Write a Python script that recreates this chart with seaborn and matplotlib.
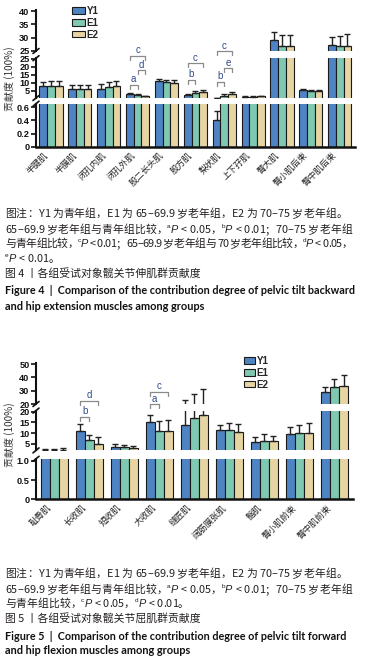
import numpy as np
import pandas as pd
import matplotlib
matplotlib.use('Agg')
import matplotlib.pyplot as plt
import seaborn as sns
from matplotlib.lines import Line2D
from matplotlib.transforms import ScaledTranslation

sns.set_theme(style='white')
plt.rcParams['font.family'] = ['Noto Sans CJK SC', 'DejaVu Sans']
plt.rcParams['axes.unicode_minus'] = False

# ---------------- data ----------------
groups = ['Y1', 'E1', 'E2']
colors = ['#4f84c4', '#7fc8b2', '#e6d4a2']

muscles4 = ['半腱肌', '半膜肌', '闭孔内肌', '闭孔外肌', '股二长头肌', '股方肌',
            '梨状肌', '上下孖肌', '臀大肌', '臀小肌后束', '臀中肌后束']
y1_4 = [8.0, 6.5, 6.5, 3.2, 11.3, 2.4, 0.4, 1.4, 29.0, 5.8, 27.2]
e1_4 = [8.0, 6.5, 7.7, 2.6, 10.3, 4.0, 2.1, 1.5, 27.0, 5.2, 27.0]
e2_4 = [8.0, 6.5, 8.2, 1.8, 9.8, 4.5, 3.3, 1.6, 27.0, 5.0, 27.0]
y1_4_err = [2.5, 2.3, 3.0, 0.8, 1.0, 0.5, 0.14, 0.3, 3.0, 0.4, 3.2]
e1_4_err = [3.0, 2.3, 2.8, 0.4, 1.5, 1.0, 0.8, 0.3, 4.0, 0.5, 3.5]
e2_4_err = [3.0, 2.3, 2.8, 0.3, 2.0, 1.2, 0.9, 0.3, 4.0, 0.4, 4.5]
# significance brackets: (category index, group i, group j, height, letter)
sig4 = [(3, 0, 1, 8.9, 'a'), (3, 1, 2, 18.1, 'd'), (3, 0, 2, 26.9, 'c'),
        (5, 0, 1, 11.9, 'b'), (5, 0, 2, 22.3, 'c'),
        (6, 0, 1, 10.8, 'b'), (6, 1, 2, 19.2, 'e'), (6, 0, 2, 30.0, 'c')]

muscles5 = ['耻骨肌', '长收肌', '短收肌', '大收肌', '缝匠肌', '阔筋膜张肌',
            '髂肌', '臀小肌前束', '臀中肌前束']
y1_5 = [2.3, 10.8, 3.8, 15.0, 14.0, 11.3, 6.0, 9.6, 29.0]
e1_5 = [2.3, 7.0, 3.7, 11.0, 17.0, 11.6, 6.5, 9.9, 32.5]
e2_5 = [2.4, 5.0, 3.2, 11.2, 18.5, 10.4, 6.2, 10.1, 33.5]
y1_5_err = [0.3, 3.3, 1.2, 3.6, 9.0, 2.3, 2.3, 3.4, 4.0]
e1_5_err = [0.3, 2.2, 0.8, 4.5, 10.3, 3.0, 3.0, 4.1, 6.0]
e2_5_err = [0.5, 3.4, 1.0, 4.8, 12.8, 3.9, 2.6, 4.8, 8.0]
sig5 = [(1, 0, 1, 17.7, 'b'), (1, 0, 2, 25.0, 'd'),
        (3, 0, 1, 23.4, 'a'), (3, 0, 2, 29.3, 'c')]

ylabel = '贡献度 (100%)'

# caption lines: list of parts (text, kind) n=normal, s=superscript, i=italic
cap4 = [[('图注：Y1 为青年组，E1 为 65–69.9 岁老年组，E2 为 70–75 岁老年组。', 'n')],
        [('65–69.9 岁老年组与青年组比较，', 'n'), ('a', 's'), ('P', 'i'), (' < 0.05，', 'n'),
         ('b', 's'), ('P', 'i'), (' < 0.01；70–75 岁老年组', 'n')],
        [('与青年组比较，', 'n'), ('c', 's'), ('P', 'i'), (' < 0.01；65–69.9 岁老年组与 70 岁老年组比较，', 'n'),
         ('d', 's'), ('P', 'i'), (' < 0.05，', 'n')],
        [('e', 's'), ('P', 'i'), (' < 0.01。', 'n')],
        [('图 4 丨各组受试对象髋关节伸肌群贡献度', 'n')]]
eng4 = ['Figure 4  |  Comparison of the contribution degree of pelvic tilt backward',
        'and hip extension muscles among groups']
cap5 = [[('图注：Y1 为青年组，E1 为 65–69.9 岁老年组，E2 为 70–75 岁老年组。', 'n')],
        [('65–69.9 岁老年组与青年组比较，', 'n'), ('a', 's'), ('P', 'i'), (' < 0.05，', 'n'),
         ('b', 's'), ('P', 'i'), (' < 0.01；70–75 岁老年组', 'n')],
        [('与青年组比较，', 'n'), ('c', 's'), ('P', 'i'), (' < 0.05，', 'n'),
         ('d', 's'), ('P', 'i'), (' < 0.01。', 'n')],
        [('图 5 丨各组受试对象髋关节屈肌群贡献度', 'n')]]
eng5 = ['Figure 5  |  Comparison of the contribution degree of pelvic tilt forward',
        'and hip flexion muscles among groups']

# ---------------- drawing ----------------
W, H = 366, 662
fig = plt.figure(figsize=(W / 100, H / 100), dpi=100)
fig.patch.set_facecolor('white')
renderer = fig.canvas.get_renderer()
TXT = '#231f20'
cjk = ['Noto Sans CJK SC', 'DejaVu Sans']


def make_df(cats, series):
    rows = []
    for g, vals in zip(groups, series):
        for c, v in zip(cats, vals):
            rows.append({'muscle': c, 'group': g, 'value': v})
    return pd.DataFrame(rows)


def fig_line(xs, ys, **kw):
    fig.add_artist(Line2D(np.array(xs) / W, np.array(ys) / H,
                          transform=fig.transFigure, **kw))


def draw_chart(cats, series, errs, segs, xl, xr, bw, sigs, ylab_y, leg_xy, hl):
    df = make_df(cats, series)
    n = len(cats)
    axes = []
    for k, (lo, hi, ptop, pbot, ticks, tlabels) in enumerate(segs):
        ax = fig.add_axes([xl / W, 1 - pbot / H, (xr - xl) / W, (pbot - ptop) / H])
        sns.barplot(data=df, x='muscle', y='value', hue='group', order=cats,
                    hue_order=groups, palette=colors, edgecolor='#1a1a1a',
                    linewidth=0.8, errorbar=None, width=bw, saturation=1,
                    legend=(k == 0), ax=ax)
        conts = list(ax.containers)
        for cont, err in zip(conts, errs):
            xs = [p.get_x() + p.get_width() / 2 for p in cont.patches]
            ys = [p.get_height() for p in cont.patches]
            ax.errorbar(xs, ys, yerr=[np.zeros(n), err], fmt='none',
                        ecolor='#222222', elinewidth=1.0, capsize=2, capthick=1.0)
        ax.set_ylim(lo, hi)
        ax.set_xlim(-0.52, n - 0.47)
        ax.set_xlabel('')
        ax.set_ylabel('')
        ax.set_facecolor('none')
        for s in ['top', 'right']:
            ax.spines[s].set_visible(False)
        ax.spines['left'].set_linewidth(1.5)
        ax.spines['left'].set_color('#111111')
        ax.set_yticks(ticks)
        ax.set_yticklabels(tlabels)
        ax.tick_params(axis='y', direction='out', length=3.5, width=1.2,
                       pad=1.2, labelsize=6.6, colors='#111111', left=True)
        for lbl in ax.get_yticklabels():
            lbl.set_fontfamily('Liberation Sans')
            lbl.set_fontweight('bold')
        if k < len(segs) - 1:
            ax.spines['bottom'].set_visible(False)
            ax.set_xticks([])
        else:
            ax.spines['bottom'].set_linewidth(1.8)
            ax.spines['bottom'].set_color('#111111')
            ax.set_xticks(range(n))
            ax.set_xticklabels(cats, rotation=45, ha='right', va='center',
                               rotation_mode='anchor', fontsize=6.3, color='#222222')
            ax.tick_params(axis='x', length=0, pad=2)
            off = ScaledTranslation(-0.045, -0.04, fig.dpi_scale_trans)
            for lbl in ax.get_xticklabels():
                lbl.set_transform(lbl.get_transform() + off)
        if k == 0:
            leg = ax.get_legend()
            handles = leg.legend_handles
            labels = [t.get_text() for t in leg.get_texts()]
            leg.remove()
            fig.legend(handles, labels, loc='upper left',
                       bbox_to_anchor=(leg_xy[0] / W, 1 - leg_xy[1] / H),
                       frameon=False, borderpad=0, borderaxespad=0,
                       handlelength=hl, handleheight=0.65, handletextpad=0.15,
                       labelspacing=0.18,
                       prop={'family': 'Liberation Sans', 'weight': 'bold', 'size': 7})
        axes.append((ax, conts))

    # break marks
    for k, (ax, _) in enumerate(axes):
        x0, y0 = ax.transAxes.transform((0, 0))
        x1, y1 = ax.transAxes.transform((0, 1))
        if k > 0:
            fig_line([x1 - 3, x1 + 3], [y1 - 2.5, y1 + 2.5], color='#111111', lw=1.2)
        if k < len(axes) - 1:
            fig_line([x0 - 3, x0 + 3], [y0 - 2.5, y0 + 2.5], color='#111111', lw=1.2)

    # significance brackets on middle axis
    ax, conts = axes[1]
    for cat, i, j, yv, lab in sigs:
        p1 = conts[i].patches[cat]
        p2 = conts[j].patches[cat]
        xa = p1.get_x() + p1.get_width() / 2
        xb = p2.get_x() + p2.get_width() / 2
        d1 = ax.transData.transform((xa, yv))
        d2 = ax.transData.transform((xb, yv))
        fig_line([d1[0], d1[0], d2[0], d2[0]], [d1[1] - 4, d1[1], d2[1], d2[1] - 4],
                 color='#8a8a8a', lw=0.9)
        fig.text((d1[0] + d2[0]) / 2 / W, (d1[1] + 2.5) / H, lab, ha='center',
                 va='baseline', fontsize=7, color='#2e4a8c', family='Liberation Sans')

    fig.text(10 / W, 1 - ylab_y / H, ylabel, rotation=90, ha='center', va='center',
             fontsize=7.2, color='#333333')


segs4 = [(25, 40.5, 9.7, 51, [25, 30, 35, 40], ['25', '30', '35', '40']),
         (0.6, 25.5, 58.2, 98, [5, 10, 15, 20, 25], ['5', '10', '15', '20', '25']),
         (0, 0.65, 103.7, 147, [0, 0.2, 0.4, 0.6], ['0', '0.2', '0.4', '0.6'])]
draw_chart(muscles4, [y1_4, e1_4, e2_4], [y1_4_err, e1_4_err, e2_4_err], segs4,
           36, 355, 0.8, sig4, 79, (72, 6), 1.35)

segs5 = [(20, 51, 362.7, 404, [20, 30, 40, 50], ['20', '30', '40', '50']),
         (2, 20.5, 410.6, 450.4, [5, 10, 15, 20], ['5', '10', '15', '20']),
         (0, 1.05, 458.8, 499.3, [0, 0.5, 1.0], ['0', '0.5', '1.0'])]
draw_chart(muscles5, [y1_5, e1_5, e2_5], [y1_5_err, e1_5_err, e2_5_err], segs5,
           36, 353, 0.78, sig5, 435, (244, 356), 1.15)

# ---------------- captions ----------------
CS = 7.8
ES = 7.9


def part_kw(kind):
    if kind == 'n':
        return dict(fontsize=CS, family=cjk, color=TXT)
    if kind == 's':
        return dict(fontsize=CS * 0.6, family='Liberation Sans', color=TXT)
    return dict(fontsize=CS, family='Liberation Sans', style='italic', color=TXT)


_adv_cache = {}


def adv(c, kind):
    key = (c, kind)
    if key not in _adv_cache:
        kw = part_kw(kind)
        t1 = fig.text(0, 0, '|' + c + '|', **kw)
        t0 = fig.text(0, 0, '||', **kw)
        w = t1.get_window_extent(renderer).width - t0.get_window_extent(renderer).width
        t1.remove()
        t0.remove()
        _adv_cache[key] = w
    return _adv_cache[key]


def rich_line(x, ybase, parts, right=None):
    if right is None and all(k == 'n' for _, k in parts):
        fig.text(x / W, 1 - ybase / H, ''.join(s for s, _ in parts), ha='left',
                 va='baseline', **part_kw('n'))
        return
    units = []
    for s, kind in parts:
        for c in s:
            units.append((c, kind))
    widths = [adv(c, k) + (0.6 if k == 'i' else 0) for c, k in units]
    extra = 0.0
    if right is not None and len(units) > 1:
        extra = (right - x - sum(widths)) / (len(units) - 1)
    cur = x
    for (c, kind), w in zip(units, widths):
        if c != ' ':
            kw = part_kw(kind)
            yy = ybase - (CS * 0.42 * 100 / 72 if kind == 's' else 0)
            fig.text(cur / W, 1 - yy / H, c, ha='left', va='baseline', **kw)
        cur += w + extra


def eng_line(x, ycen, s, right=None):
    t = fig.text(x / W, 1 - ycen / H, s, ha='left', va='center', fontsize=ES,
                 color='#111111', family='Lato', weight='bold')
    if right is not None:
        w = t.get_window_extent(renderer).width
        t.set_fontsize(ES * (right - x) / w)


rights4 = [347, 352, 352, None, None]
for parts, y, r in zip(cap4, [217, 233, 247, 262, 278], rights4):
    rich_line(5, y, parts, r)
for s, y, r in zip(eng4, [290, 306], [352, None]):
    eng_line(5, y, s, r)
rights5 = [347, 352, None, None]
for parts, y, r in zip(cap5, [577, 593, 607, 623], rights5):
    rich_line(5, y, parts, r)
for s, y, r in zip(eng5, [636, 650], [344, None]):
    eng_line(5, y, s, r)

fig.savefig('out.png', dpi=100, facecolor='white')
